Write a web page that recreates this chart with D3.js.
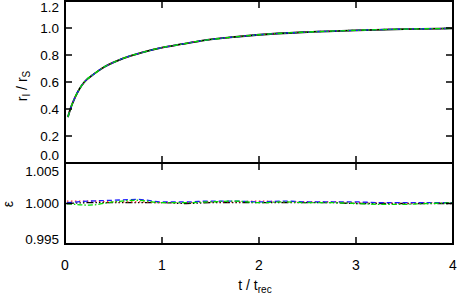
<!DOCTYPE html>
<html>
<head>
<meta charset="utf-8">
<script src="https://cdn.jsdelivr.net/npm/d3@7"></script>
<style>
	body { margin: 0; background: #fff; }
	svg text { font-family: "Liberation Sans", Arial, sans-serif; fill: #000; }
</style>
</head>
<body>
<svg id="chart" width="457" height="296"></svg>
<script>
// top panel: r_I / r_S against t / t_rec
var tTop = [0.03, 0.06, 0.1, 0.15, 0.2, 0.3, 0.4, 0.5, 0.6, 0.8, 1.0, 1.2, 1.4, 1.7, 2.0, 2.5, 3.0, 3.5, 4.0];
var rBlack = [0.34, 0.41, 0.48, 0.55, 0.60, 0.66, 0.71, 0.745, 0.775, 0.82, 0.855, 0.88, 0.905, 0.93, 0.95, 0.97, 0.983, 0.992, 0.997];
var rRed = [0.34, 0.41, 0.48, 0.55, 0.60, 0.66, 0.71, 0.745, 0.775, 0.82, 0.855, 0.88, 0.905, 0.93, 0.95, 0.97, 0.983, 0.992, 0.997];
var rBlue = [0.34, 0.41, 0.48, 0.55, 0.60, 0.66, 0.71, 0.745, 0.775, 0.82, 0.855, 0.88, 0.905, 0.93, 0.95, 0.97, 0.983, 0.992, 0.997];
var rGreen = [0.34, 0.41, 0.48, 0.55, 0.60, 0.66, 0.71, 0.745, 0.775, 0.82, 0.855, 0.88, 0.905, 0.93, 0.95, 0.97, 0.983, 0.992, 0.997];

// bottom panel: epsilon against t / t_rec
var tEps = [0.02, 0.25, 0.5, 0.75, 1, 1.25, 1.5, 1.75, 2, 2.25, 2.5, 2.75, 3, 3.25, 3.5, 3.75, 4];
var epsBlack = [1.0000, 1.0001, 1.0001, 1.0001, 1.0001, 1.0000, 1.0001, 1.0001, 1.0001, 1.0001, 1.0001, 1.0001, 1.0000, 1.0000, 1.0000, 1.0000, 1.0000];
var epsRed = [1.0003, 1.0003, 1.0002, 1.0002, 1.0001, 1.0001, 1.0002, 1.0002, 1.0003, 1.0002, 1.0002, 1.0002, 1.0001, 1.0001, 1.0000, 1.0001, 1.0001];
var epsBlue = [1.0001, 1.0003, 1.0004, 1.0005, 1.0002, 1.0002, 1.0003, 1.0003, 1.0002, 1.0003, 1.0002, 1.0002, 1.0002, 1.0001, 1.0001, 1.0001, 1.0001];
var epsGreen = [1.0000, 0.9998, 1.0002, 1.0004, 1.0001, 1.0001, 1.0002, 1.0003, 1.0001, 1.0002, 1.0001, 1.0001, 1.0000, 0.9999, 0.9999, 1.0000, 1.0001];

var xTicks = [0, 1, 2, 3, 4];
var topTicks = [0.0, 0.2, 0.4, 0.6, 0.8, 1.0, 1.2];
var bottomTicks = [0.995, 1.000, 1.005];

var svg = d3.select("#chart");

var left = 65, right = 453;
var topY0 = 1, topY1 = 163, botY1 = 244;

var x = d3.scaleLinear().domain([0, 4]).range([left, right]);
var yTop = d3.scaleLinear().domain([0, 1.2]).range([topY1, topY0]);
var yBot = d3.scaleLinear().domain([0.995, 1.005]).range([botY1, topY1]);

var styles = [
	{ color: "#000", dash: null, width: 1.8 },
	{ color: "#ff2020", dash: "1.5,2.5", width: 1.3 },
	{ color: "#1a1aff", dash: "5,3", width: 1.3 },
	{ color: "#00dd00", dash: "5,2,1.5,2", width: 1.3 }
];

function drawLines(tArr, series, yScale, blackDash) {
	series.forEach(function (vals, i) {
		var pts = tArr.map(function (t, k) { return [t, vals[k]]; });
		var line = d3.line()
			.x(function (d) { return x(d[0]); })
			.y(function (d) { return yScale(d[1]); })
			.curve(d3.curveMonotoneX);
		var dash = styles[i].dash;
		if (i === 0 && blackDash) dash = blackDash;
		svg.append("path")
			.attr("d", line(pts))
			.attr("fill", "none")
			.attr("stroke", styles[i].color)
			.attr("stroke-width", i === 0 && blackDash ? 1.3 : styles[i].width)
			.attr("stroke-dasharray", dash);
	});
}

drawLines(tTop, [rBlack, rRed, rBlue, rGreen], yTop, null);
drawLines(tEps, [epsBlack, epsRed, epsBlue, epsGreen], yBot, "7,2,1.5,2,1.5,2,1.5,2");

// ticks
var tickLen = 7;
var g = svg.append("g").attr("stroke", "#000").attr("stroke-width", 1.5);

[[topY0, topY1], [topY1, botY1]].forEach(function (p) {
	xTicks.slice(1, 4).forEach(function (t) {
		g.append("line").attr("x1", x(t)).attr("x2", x(t)).attr("y1", p[0]).attr("y2", p[0] + tickLen);
		g.append("line").attr("x1", x(t)).attr("x2", x(t)).attr("y1", p[1]).attr("y2", p[1] - tickLen);
	});
});

topTicks.forEach(function (v) {
	g.append("line").attr("x1", left).attr("x2", left + tickLen).attr("y1", yTop(v)).attr("y2", yTop(v));
	g.append("line").attr("x1", right).attr("x2", right - tickLen).attr("y1", yTop(v)).attr("y2", yTop(v));
});
bottomTicks.forEach(function (v) {
	g.append("line").attr("x1", left).attr("x2", left + tickLen).attr("y1", yBot(v)).attr("y2", yBot(v));
	g.append("line").attr("x1", right).attr("x2", right - tickLen).attr("y1", yBot(v)).attr("y2", yBot(v));
});

// frames
svg.append("rect").attr("x", left).attr("y", topY0).attr("width", right - left).attr("height", topY1 - topY0)
	.attr("fill", "none").attr("stroke", "#000").attr("stroke-width", 2);
svg.append("rect").attr("x", left).attr("y", topY1).attr("width", right - left).attr("height", botY1 - topY1)
	.attr("fill", "none").attr("stroke", "#000").attr("stroke-width", 2);

// tick labels
function clamp(v, a, b) { return Math.max(a, Math.min(b, v)); }

topTicks.forEach(function (v) {
	svg.append("text").attr("x", 59).attr("y", clamp(yTop(v), topY0 + 6.5, topY1 - 7.5))
		.attr("text-anchor", "end").attr("dominant-baseline", "central").attr("font-size", 13.5)
		.text(v.toFixed(1));
});
bottomTicks.forEach(function (v) {
	svg.append("text").attr("x", 59).attr("y", clamp(yBot(v), topY1 + 8, botY1 - 5))
		.attr("text-anchor", "end").attr("dominant-baseline", "central").attr("font-size", 13.5)
		.text(v.toFixed(3));
});
xTicks.forEach(function (t) {
	svg.append("text").attr("x", x(t)).attr("y", 265)
		.attr("text-anchor", "middle").attr("dominant-baseline", "central").attr("font-size", 14)
		.text(t);
});

// axis titles
var xl = svg.append("text").attr("x", x(2) - 4).attr("y", 290).attr("text-anchor", "middle").attr("font-size", 14);
xl.append("tspan").text("t / t");
xl.append("tspan").attr("font-size", 10).attr("dy", 3).text("rec");

var yl = svg.append("text").attr("transform", "translate(27,86) rotate(-90)").attr("text-anchor", "middle").attr("font-size", 14);
yl.append("tspan").text("r");
yl.append("tspan").attr("font-size", 10).attr("dy", 3).text("I");
yl.append("tspan").attr("dy", -3).text(" / r");
yl.append("tspan").attr("font-size", 10).attr("dy", 3).text("S");

svg.append("text").attr("transform", "translate(13,204) rotate(-90)").attr("text-anchor", "middle")
	.attr("font-size", 14).text("ε");
</script>
</body>
</html>
